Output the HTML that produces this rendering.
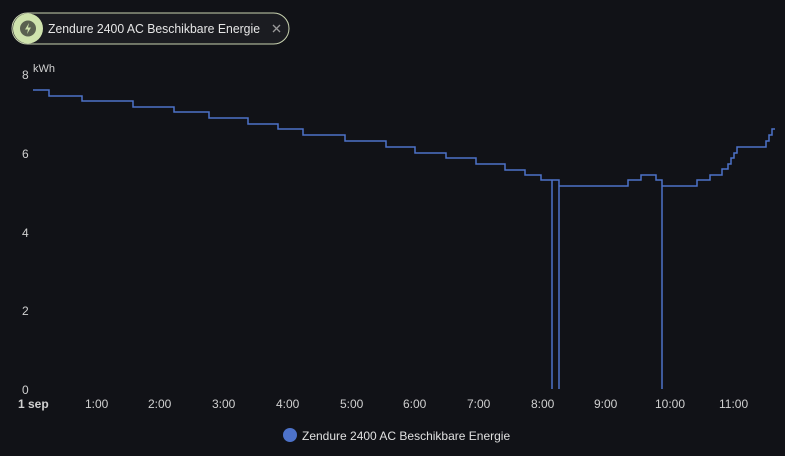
<!DOCTYPE html>
<html><head><style>
body{margin:0;background:#111217;width:785px;height:456px;overflow:hidden;font-family:"Liberation Sans",sans-serif;}
</style></head><body>
<svg width="785" height="456" xmlns="http://www.w3.org/2000/svg" style="position:absolute;left:0;top:0">
<rect x="12" y="13" width="277" height="31" rx="15.5" fill="#1b1c21" stroke="#c9d3b0" stroke-width="1"/>
<circle cx="28" cy="28.5" r="15" fill="#cfe3ad"/>
<circle cx="28" cy="28.5" r="8" fill="#5a6150"/>
<path d="M29 23 L25 29.5 H28 L27 34 L31 27.5 H28 Z" fill="#cfe3ad"/>
<text x="48" y="33" fill="#e6e6e6" font-size="13" textLength="212" lengthAdjust="spacingAndGlyphs">Zendure 2400 AC Beschikbare Energie</text>
<path d="M273 25 L280 32 M280 25 L273 32" stroke="#9a9a9a" stroke-width="1.3"/>
<g fill="#d0d0d0" font-size="12">
<text x="33" y="72" font-size="11">kWh</text>
<text x="22" y="79">8</text>
<text x="22" y="158">6</text>
<text x="22" y="237">4</text>
<text x="22" y="315">2</text>
<text x="22" y="394">0</text>
<text x="18" y="408" font-weight="bold">1 sep</text>
<text x="85" y="408">1:00</text>
<text x="148" y="408">2:00</text>
<text x="212" y="408">3:00</text>
<text x="276" y="408">4:00</text>
<text x="340" y="408">5:00</text>
<text x="403" y="408">6:00</text>
<text x="467" y="408">7:00</text>
<text x="531" y="408">8:00</text>
<text x="594" y="408">9:00</text>
<text x="655" y="408">10:00</text>
<text x="719" y="408">11:00</text>
</g>
<path fill="none" stroke="#4d72c9" stroke-width="1.5" d="M33 90 H49 V96 H82 V101 H133 V107 H174 V112 H209 V118 H248 V124 H278 V129 H303 V135 H345 V141 H386 V147 H415 V153 H446 V158 H476 V164 H505 V170 H525 V175 H541 V180 H552 V389 V180 H557 V180 L559 180 V389 V186 H628 V180 H641 V175 H656 V180 H662 V389 V186 H697 V180 H710 V175 H722 V169 H728 V164 H731 V158 H734 V153 H737 V147 H766 V141 H769 V135 H772 V129 H775"/>
<circle cx="290" cy="435" r="7" fill="#4d72c9"/>
<text x="302" y="440" fill="#e0e0e0" font-size="12">Zendure 2400 AC Beschikbare Energie</text>
</svg>
</body></html>
